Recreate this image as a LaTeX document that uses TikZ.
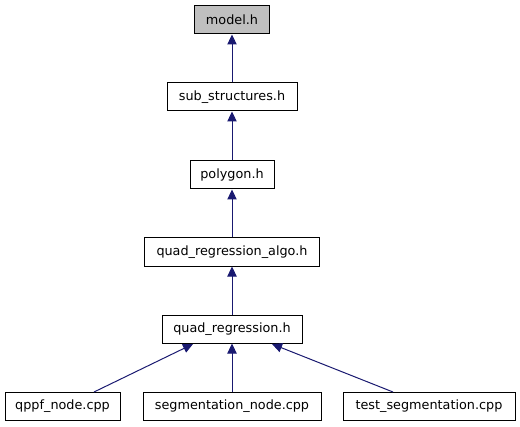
\documentclass[tikz,border=0pt]{standalone}
\usepackage{fontspec}
\setmainfont{DejaVu Sans}
\usetikzlibrary{arrows.meta}
\definecolor{edgeblue}{HTML}{191970}
\begin{document}
\begin{tikzpicture}[x=0.75pt,y=-0.75pt,
  box/.style={draw=black,line width=0.75pt,fill=white,inner sep=0pt,minimum height=21pt,font=\fontsize{9.6}{11}\selectfont},
  dep/.style={draw=edgeblue,line width=0.75pt,-{Triangle[length=7.5pt,width=7pt]},fill=none},
]
\useasboundingbox (0,0) rectangle (520,427);
\node[box,fill={rgb,255:red,191;green,191;blue,191},minimum width=75*0.75pt] (model) at (232,20) {model.h};
\node[box,minimum width=130*0.75pt] (sub) at (232,97) {sub\_structures.h};
\node[box,minimum width=84*0.75pt] (poly) at (232,175) {polygon.h};
\node[box,minimum width=175*0.75pt] (qra) at (232,252) {quad\_regression\_algo.h};
\node[box,minimum width=140*0.75pt] (qr) at (232,329) {quad\_regression.h};
\node[box,minimum width=115*0.75pt] (qppf) at (62.5,406) {qppf\_node.cpp};
\node[box,minimum width=178*0.75pt] (seg) at (232,406) {segmentation\_node.cpp};
\node[box,minimum width=172*0.75pt] (test) at (429,406) {test\_segmentation.cpp};
\coordinate (qa) at (94,392);
\coordinate (qb) at (193,344);
\coordinate (ta) at (393,392);
\coordinate (tb) at (272,344);
\draw[dep] (sub) -- (model);
\draw[dep] (poly) -- (sub);
\draw[dep] (qra) -- (poly);
\draw[dep] (qr) -- (qra);
\draw[dep] (seg) -- (qr);
\draw[dep] (qa) -- (qb);
\draw[dep] (ta) -- (tb);
\end{tikzpicture}
\end{document}
